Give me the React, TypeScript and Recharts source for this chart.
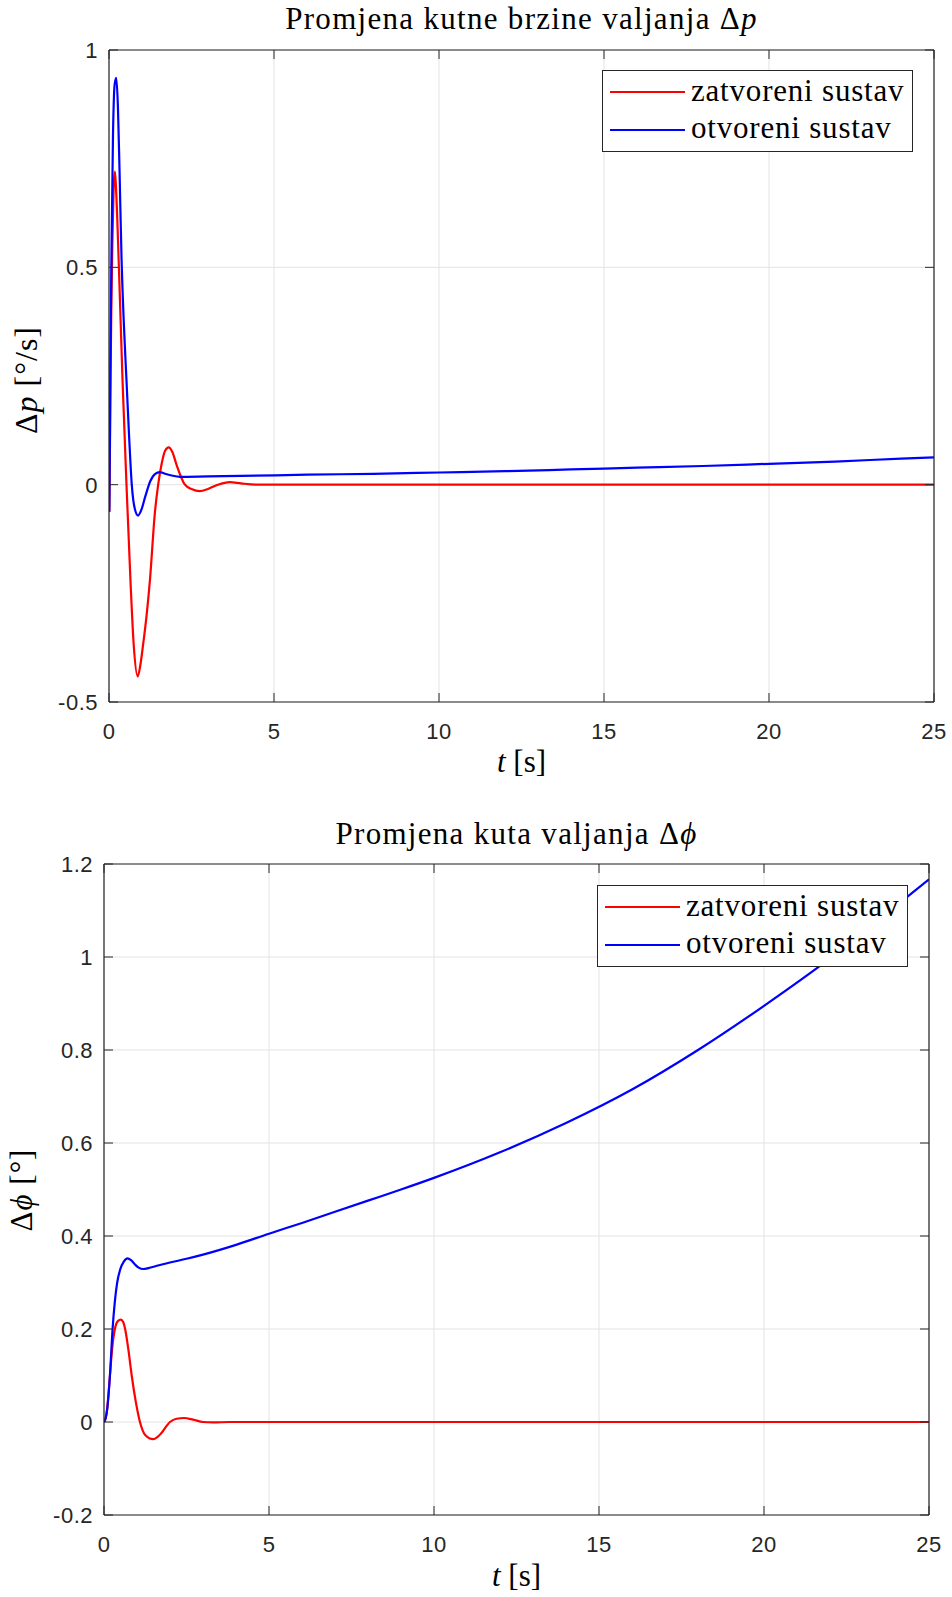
import React from "react";
import { LineChart, Line, XAxis, YAxis, CartesianGrid, Legend } from "recharts";

// axis ticks
const xTicks = [0, 5, 10, 15, 20, 25];
const pTicks = [-0.5, 0, 0.5, 1];
const phiTicks = [-0.2, 0, 0.2, 0.4, 0.6, 0.8, 1, 1.2];

// series names
const closedName = "zatvoreni sustav";
const openName = "otvoreni sustav";

// Δp, zatvoreni sustav
const pClosedT = [0, 0.01, 0.04, 0.07, 0.1, 0.14, 0.18, 0.22, 0.3, 0.41, 0.53, 0.65, 0.75, 0.87, 0.95, 1.03, 1.14, 1.24, 1.39, 1.49, 1.6, 1.7, 1.81, 1.92, 2.05, 2.3, 2.5, 2.75, 3.0, 3.3, 3.66, 4.0, 4.5, 25];
const pClosed = [0, -0.06, 0.2, 0.4, 0.55, 0.68, 0.72, 0.67, 0.5, 0.24, 0.0, -0.22, -0.37, -0.441, -0.415, -0.37, -0.3, -0.22, -0.065, 0, 0.05, 0.078, 0.086, 0.075, 0.045, 0, -0.01, -0.015, -0.01, 0, 0.006, 0.003, 0, 0];

// Δp, otvoreni sustav
const pOpenT = [0, 0.01, 0.04, 0.07, 0.12, 0.17, 0.22, 0.27, 0.32, 0.38, 0.45, 0.53, 0.61, 0.69, 0.78, 0.88, 0.98, 1.1, 1.25, 1.4, 1.54, 1.7, 1.9, 2.15, 3, 4, 6, 8, 10, 12, 14, 16, 18, 20, 22, 24, 25];
const pOpen = [0, -0.06, 0.25, 0.5, 0.8, 0.92, 0.936, 0.87, 0.72, 0.52, 0.37, 0.24, 0.11, 0, -0.055, -0.071, -0.058, -0.027, 0.008, 0.025, 0.029, 0.025, 0.021, 0.018, 0.019, 0.02, 0.023, 0.025, 0.028, 0.031, 0.035, 0.039, 0.043, 0.048, 0.053, 0.06, 0.063];

// Δϕ, zatvoreni sustav
const phiClosedT = [0, 0.05, 0.1, 0.18, 0.25, 0.33, 0.42, 0.51, 0.58, 0.64, 0.74, 0.84, 0.96, 1.09, 1.25, 1.49, 1.7, 2.0, 2.2, 2.43, 2.7, 3.0, 3.3, 3.8, 25];
const phiClosed = [0, 0.008, 0.03, 0.1, 0.16, 0.2, 0.217, 0.22, 0.215, 0.2, 0.155, 0.1, 0.045, 0, -0.028, -0.037, -0.027, 0, 0.007, 0.0086, 0.005, 0, -0.001, 0, 0];

// Δϕ, otvoreni sustav
const phiOpenT = [0, 0.05, 0.1, 0.18, 0.26, 0.33, 0.4, 0.5, 0.6, 0.71, 0.82, 0.95, 1.05, 1.19, 1.35, 1.6, 2.0, 2.5, 3, 4, 5, 6, 7, 8, 9, 10, 12, 14, 16, 18, 20, 22, 24, 25];
const phiOpen = [0, 0.008, 0.03, 0.1, 0.2, 0.26, 0.3, 0.33, 0.345, 0.352, 0.348, 0.338, 0.332, 0.329, 0.331, 0.336, 0.343, 0.351, 0.36, 0.381, 0.405, 0.428, 0.452, 0.476, 0.5, 0.525, 0.58, 0.643, 0.715, 0.8, 0.895, 0.997, 1.11, 1.167];

const toRows = (t: number[], v: number[]) => t.map((tt, i) => ({ t: tt, v: v[i] }));

const AXIS = "#262626";
const GRID = "#e3e3e3";
const RED = "#ff0000";
const BLUE = "#0000ff";
const TICK_LEN = 9;
const LINE_W = 2.2;
const SANS = "'Liberation Sans', Arial, Helvetica, sans-serif";
const SERIF = "'Liberation Serif', 'Times New Roman', serif";
const TICK_FONT = 22;
const TICK_SPACING = 0.5;

const BottomTick = (props: any) => {
  const { x, y, payload } = props;
  return (
    <g>
      <line x1={x} y1={y} x2={x} y2={y - TICK_LEN} stroke={AXIS} strokeWidth={1} />
      <text x={x} y={y + 37} textAnchor="middle" fill={AXIS} fontSize={TICK_FONT} letterSpacing={TICK_SPACING} fontFamily={SANS}>
        {payload.value}
      </text>
    </g>
  );
};

const TopTick = (props: any) => {
  const { x, y } = props;
  return <line x1={x} y1={y} x2={x} y2={y + TICK_LEN} stroke={AXIS} strokeWidth={1} />;
};

const LeftTick = (props: any) => {
  const { x, y, payload } = props;
  return (
    <g>
      <line x1={x} y1={y} x2={x + TICK_LEN} y2={y} stroke={AXIS} strokeWidth={1} />
      <text x={x - 11} y={y + 8} textAnchor="end" fill={AXIS} fontSize={TICK_FONT} letterSpacing={TICK_SPACING} fontFamily={SANS}>
        {String(payload.value)}
      </text>
    </g>
  );
};

const RightTick = (props: any) => {
  const { x, y } = props;
  return <line x1={x} y1={y} x2={x - TICK_LEN} y2={y} stroke={AXIS} strokeWidth={1} />;
};

const LegendBox = () => (
  <svg width={311} height={82} style={{ display: "block" }}>
    <rect x={0.5} y={0.5} width={310} height={81} fill="#ffffff" stroke={AXIS} strokeWidth={1} />
    <line x1={8} y1={22} x2={83} y2={22} stroke={RED} strokeWidth={LINE_W} />
    <text x={89} y={30.5} fontSize={31} letterSpacing={0.8} fontFamily={SERIF} fill="#000">
      {closedName}
    </text>
    <line x1={8} y1={60} x2={83} y2={60} stroke={BLUE} strokeWidth={LINE_W} />
    <text x={89} y={67.5} fontSize={31} letterSpacing={0.8} fontFamily={SERIF} fill="#000">
      {openName}
    </text>
  </svg>
);

interface PanelProps {
  height: number;
  margin: { top: number; right: number; bottom: number; left: number };
  yDomain: [number, number];
  yTicks: number[];
  closed: { t: number; v: number }[];
  open: { t: number; v: number }[];
  legendPos: { left: number; top: number };
}

// axes are 1px thick so that Recharts still draws them; the margins absorb that pixel
const Panel: React.FC<PanelProps> = ({ height, margin, yDomain, yTicks, closed, open, legendPos }) => (
  <LineChart width={952} height={height} margin={margin}>
    <CartesianGrid stroke={GRID} strokeWidth={1} />
    <Line data={closed} dataKey="v" name={closedName} type="monotone" stroke={RED} strokeWidth={LINE_W} dot={false} isAnimationActive={false} />
    <Line data={open} dataKey="v" name={openName} type="monotone" stroke={BLUE} strokeWidth={LINE_W} dot={false} isAnimationActive={false} />
    <XAxis
      dataKey="t"
      type="number"
      domain={[0, 25]}
      ticks={xTicks}
      interval={0}
      height={1}
      tickSize={0}
      tickMargin={0}
      allowDataOverflow
      axisLine={{ stroke: AXIS, strokeWidth: 1.2 }}
      tickLine={false}
      tick={<BottomTick />}
    />
    <XAxis
      xAxisId="top"
      orientation="top"
      dataKey="t"
      type="number"
      domain={[0, 25]}
      ticks={xTicks}
      interval={0}
      height={1}
      tickSize={0}
      tickMargin={0}
      allowDataOverflow
      axisLine={{ stroke: AXIS, strokeWidth: 1.2 }}
      tickLine={false}
      tick={<TopTick />}
    />
    <YAxis
      type="number"
      domain={yDomain}
      ticks={yTicks}
      interval={0}
      width={1}
      tickSize={0}
      tickMargin={0}
      allowDataOverflow
      axisLine={{ stroke: AXIS, strokeWidth: 1.2 }}
      tickLine={false}
      tick={<LeftTick />}
    />
    <YAxis
      yAxisId="right"
      orientation="right"
      type="number"
      domain={yDomain}
      ticks={yTicks}
      interval={0}
      width={1}
      tickSize={0}
      tickMargin={0}
      allowDataOverflow
      axisLine={{ stroke: AXIS, strokeWidth: 1.2 }}
      tickLine={false}
      tick={<RightTick />}
    />
    <Legend
      layout="vertical"
      align="center"
      verticalAlign="middle"
      content={<LegendBox />}
      wrapperStyle={{ left: legendPos.left, top: legendPos.top, width: 311, height: 82 }}
    />
  </LineChart>
);

export default function App() {
  return (
    <div style={{ position: "absolute", left: 0, top: 0, width: 952, height: 1597, background: "#ffffff" }}>
      <div style={{ position: "absolute", left: 0, top: 0 }}>
        <Panel
          height={790}
          margin={{ top: 49, right: 17, bottom: 87, left: 108 }}
          yDomain={[-0.5, 1]}
          yTicks={pTicks}
          closed={toRows(pClosedT, pClosed)}
          open={toRows(pOpenT, pOpen)}
          legendPos={{ left: 602, top: 70 }}
        />
      </div>
      <div style={{ position: "absolute", left: 0, top: 800 }}>
        <Panel
          height={797}
          margin={{ top: 63, right: 22, bottom: 81, left: 103 }}
          yDomain={[-0.2, 1.2]}
          yTicks={phiTicks}
          closed={toRows(phiClosedT, phiClosed)}
          open={toRows(phiOpenT, phiOpen)}
          legendPos={{ left: 597, top: 85 }}
        />
      </div>
      <svg width={952} height={1597} style={{ position: "absolute", left: 0, top: 0, pointerEvents: "none" }}>
        <g fontFamily={SERIF} fill="#000">
          <text x={521.5} y={29} textAnchor="middle" fontSize={31} letterSpacing={1.3}>
            Promjena kutne brzine valjanja Δ<tspan fontStyle="italic">p</tspan>
          </text>
          <text x={521.5} y={772} textAnchor="middle" fontSize={31}>
            <tspan fontStyle="italic">t</tspan> [s]
          </text>
          <text transform="translate(37,380) rotate(-90)" textAnchor="middle" fontSize={32} letterSpacing={1}>
            Δ<tspan fontStyle="italic">p</tspan> [°/s]
          </text>
          <text x={516.5} y={844} textAnchor="middle" fontSize={31} letterSpacing={1.3}>
            Promjena kuta valjanja Δ<tspan fontStyle="italic">ϕ</tspan>
          </text>
          <text x={516.5} y={1586} textAnchor="middle" fontSize={31}>
            <tspan fontStyle="italic">t</tspan> [s]
          </text>
          <text transform="translate(32,1190) rotate(-90)" textAnchor="middle" fontSize={31} letterSpacing={1}>
            Δ<tspan fontStyle="italic">ϕ</tspan> [°]
          </text>
        </g>
      </svg>
    </div>
  );
}
